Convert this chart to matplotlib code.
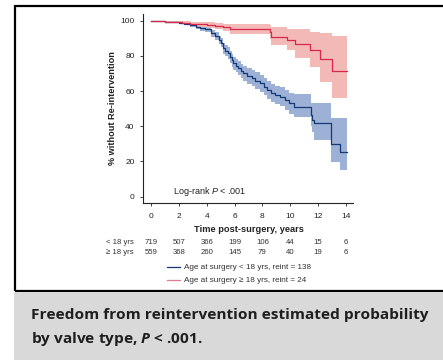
import numpy as np
import matplotlib
matplotlib.use('Agg')
import matplotlib.pyplot as plt
from matplotlib.lines import Line2D
from matplotlib.patches import Rectangle
from matplotlib.transforms import blended_transform_factory

plt.rcParams['font.family'] = ['Liberation Sans', 'DejaVu Sans']
plt.rcParams['mathtext.fontset'] = 'custom'
plt.rcParams['mathtext.it'] = 'Liberation Sans:italic'
plt.rcParams['mathtext.rm'] = 'Liberation Sans'

# age at surgery < 18 yrs
t_young = [0, 0.5, 1.0, 1.5, 2.0, 2.4, 2.8, 3.2, 3.5, 3.9, 4.3, 4.6, 4.85, 5.0, 5.2,
           5.35, 5.5, 5.68, 5.8, 5.92, 6.1, 6.28, 6.45, 6.64, 6.9, 7.24, 7.5, 7.84,
           8.1, 8.3, 8.6, 8.92, 9.28, 9.64, 9.9, 10.24, 11.46, 11.56, 11.7, 12.9,
           12.95, 13.6, 14.07]
s_young = [100, 99.8, 99.5, 99.1, 98.6, 98.2, 97.6, 96.6, 95.7, 95.0, 92.8, 91.5,
           89.0, 87.5, 84.3, 83.0, 81.5, 79.5, 77.5, 75.8, 74.5, 73.0, 71.5, 70.1,
           68.8, 67.3, 66.0, 64.4, 62.5, 60.6, 59.0, 57.8, 56.8, 54.9, 53.0, 51.1,
           46.4, 43.6, 41.7, 35.0, 29.9, 25.6, 25.6]
lo_young = [100, 99.5, 99.1, 98.6, 98.0, 97.5, 96.6, 95.4, 94.3, 93.4, 90.9, 89.3,
            86.5, 84.8, 81.3, 79.8, 78.2, 76.0, 73.8, 72.0, 70.6, 69.0, 67.3, 65.6,
            64.2, 62.6, 61.2, 59.5, 57.5, 55.5, 53.8, 52.5, 51.3, 49.2, 47.2, 45.5,
            40.3, 37.0, 32.2, 25.0, 19.5, 15.2, 15.2]
hi_young = [100, 100, 99.9, 99.6, 99.2, 98.9, 98.5, 97.7, 97.0, 96.5, 94.6, 93.6,
            91.3, 90.1, 87.2, 86.1, 84.8, 83.0, 81.2, 79.6, 78.4, 77.0, 75.6, 74.5,
            73.3, 71.9, 70.7, 69.2, 67.3, 65.6, 64.2, 63.0, 62.2, 60.5, 58.8, 58.3,
            53.0, 53.0, 53.0, 44.5, 44.5, 44.5, 44.5]

# age at surgery >= 18 yrs
t_adult = [0, 0.5, 1.0, 1.6, 2.2, 2.8, 3.4, 4.0, 4.6, 5.2, 5.7, 8.51, 8.65, 9.76,
           10.36, 11.44, 12.16, 13.0, 14.08]
s_adult = [100, 99.8, 99.5, 99.2, 98.8, 98.4, 97.9, 97.4, 96.8, 96.2, 95.5, 93.3,
           90.9, 89.0, 86.6, 83.3, 78.0, 71.4, 71.4]
lo_adult = [100, 99.5, 99.0, 98.5, 97.9, 97.2, 96.5, 95.8, 95.0, 94.0, 92.6, 89.5,
            86.2, 83.3, 78.6, 73.9, 65.3, 55.9, 55.9]
hi_adult = [100, 100, 100, 99.9, 99.7, 99.5, 99.2, 99.0, 98.7, 98.4, 98.1, 97.6,
            96.6, 95.1, 95.1, 93.8, 92.8, 91.3, 91.3]

risk_times = [0, 2, 4, 6, 8, 10, 12, 14]
risk_young = [719, 507, 366, 199, 106, 44, 15, 6]
risk_adult = [559, 368, 260, 145, 79, 40, 19, 6]
row_labels = ['< 18 yrs', '\u2265 18 yrs']
legend_labels = ['Age at surgery < 18 yrs, reint = 138',
                 'Age at surgery \u2265 18 yrs, reint = 24']
caption = ['Freedom from reintervention estimated probability',
           r'by valve type, $\mathbfit{P}$ < .001.']

blue, blue_band = '#123a75', '#9db0d6'
red, red_band = '#d8274a', '#f2b9b6'

W, H = 443, 360
fig = plt.figure(figsize=(W / 100, H / 100), dpi=100)

def fx(px):
    return px / W

def fy(py):
    return 1 - py / H

# frame and caption panel
fig.add_artist(Rectangle((fx(15), fy(291)), fx(440), 285 / H, transform=fig.transFigure,
                         fill=False, ec='black', lw=1.6))
fig.add_artist(Rectangle((fx(14), 0), fx(440), fy(292), transform=fig.transFigure,
                         fc='#d9d9d9', ec='none'))

ax = fig.add_axes([fx(143), fy(203.3), fx(210), 189.3 / H])
ax.fill_between(t_young, lo_young, hi_young, step='post', color=blue_band, lw=0)
ax.fill_between(t_adult, lo_adult, hi_adult, step='post', color=red_band, lw=0)
ax.step(t_young, s_young, where='post', color=blue, lw=0.9)
ax.step(t_adult, s_adult, where='post', color=red, lw=0.9)

ax.set_xlim(-0.57, 14.5)
ax.set_ylim(-3.8, 103.8)
ax.set_xticks(risk_times)
ax.set_yticks([0, 20, 40, 60, 80, 100])
for s in ['top', 'right']:
    ax.spines[s].set_visible(False)
for s in ['left', 'bottom']:
    ax.spines[s].set_linewidth(0.8)
    ax.spines[s].set_color('#222222')
ax.tick_params(labelsize=6, length=2.5, width=0.6, pad=3.5, colors='#222222')
ax.tick_params(axis='x', pad=4.5)

ax.set_xlabel('Time post-surgery, years', fontsize=6.7, fontweight='bold', color='#222222')
ax.xaxis.set_label_coords(0.503, -0.136)
ax.xaxis.label.set_va('center')
ax.set_ylabel('% without Re-intervention', fontsize=6.6, fontweight='bold', color='#222222')
ax.yaxis.set_label_coords(-0.143, 0.502)
ax.yaxis.label.set_va('center')

ax.text(1.58, 3.0, r'Log-rank $\it{P}$ < .001', fontsize=6.5, va='center', color='#222222')

# numbers at risk
tr = blended_transform_factory(ax.transData, fig.transFigure)
for row_y, lab, counts in [(242.3, row_labels[0], risk_young), (252.3, row_labels[1], risk_adult)]:
    fig.text(fx(134), fy(row_y), lab, fontsize=5.6, ha='right', va='center', color='#333333')
    for t, n in zip(risk_times, counts):
        ax.text(t, fy(row_y), str(n), transform=tr, fontsize=5.6, ha='center',
                va='center', color='#333333')

# legend
for row_y, lab, c in [(267.3, legend_labels[0], blue), (280.3, legend_labels[1], '#e27a90')]:
    fig.add_artist(Line2D([fx(167), fx(180)], [fy(row_y), fy(row_y)],
                          transform=fig.transFigure, color=c, lw=0.9))
    fig.text(fx(183.5), fy(row_y), lab, fontsize=5.85, va='center', color='#333333')

# caption
plt.rcParams['mathtext.bfit'] = 'Open Sans:bold:italic'
for row_y, line in [(315, caption[0]), (339, caption[1])]:
    fig.text(fx(31), fy(row_y), line, fontsize=11.1, fontweight='bold', va='center',
             family=['Open Sans', 'DejaVu Sans'], color='#1e1e1e')

fig.savefig('out.png', dpi=100)
